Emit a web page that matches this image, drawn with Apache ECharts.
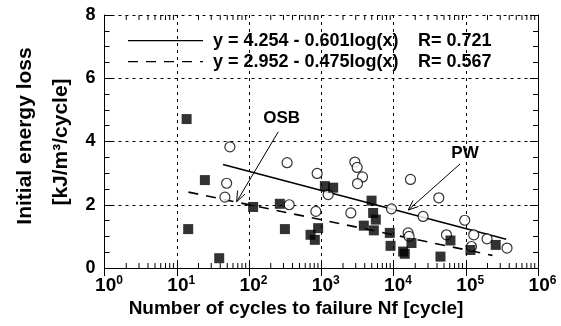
<!DOCTYPE html>
<html><head><meta charset="utf-8">
<script src="https://cdn.jsdelivr.net/npm/echarts@6/dist/echarts.min.js"></script>
<style>html,body{margin:0;padding:0;background:#fff}#c{width:561px;height:326px}</style>
</head><body><div id="c"></div>
<script>
// OSB (filled squares): [cycles to failure, initial energy loss]
const osbN = [13.7, 24.5, 14.4, 38.7, 114, 267, 314, 711, 815, 906, 1122, 1462, 4966, 5224, 5690, 3882, 5343, 8892, 9100, 13580, 14320, 17740, 44670, 61400, 116100, 260000];
const osbE = [4.71, 2.78, 1.23, 0.31, 1.93, 2.03, 1.23, 1.05, 0.89, 1.26, 2.59, 2.54, 2.13, 1.74, 1.53, 1.34, 1.19, 1.11, 0.70, 0.52, 0.45, 0.79, 0.36, 0.87, 0.57, 0.73];
// PW (open circles)
const pwN = [54.4, 49, 46.4, 337, 360, 877, 842, 1246, 2917, 3141, 3724, 3178, 2567, 9380, 17180, 25660, 42360, 15920, 16440, 54080, 96830, 129100, 197200, 372500, 120000];
const pwE = [3.83, 2.68, 2.24, 3.33, 2.00, 2.99, 1.79, 2.32, 3.35, 3.18, 2.88, 2.67, 1.74, 1.87, 2.80, 1.63, 2.22, 1.11, 1.00, 1.05, 1.51, 1.05, 0.92, 0.63, 0.68];
// Regression line end points
const fitSolidN = [43.7, 363000];
const fitSolidE = [3.27, 0.91];
const fitDashN = [14.5, 234000];
const fitDashE = [2.40, 0.40];
// Tick labels
const yTicks = [0, 2, 4, 6, 8];
const xTickExp = [0, 1, 2, 3, 4, 5, 6];
const legendText = ['y = 4.254 - 0.601log(x)', 'y = 2.952 - 0.475log(x)'];
const legendR = ['R= 0.721', 'R= 0.567'];
const xTitle = 'Number of cycles to failure Nf [cycle]';
const yTitle = ['Initial energy loss', '[kJ/m³/cycle]'];

const FONT = "'Liberation Sans', Arial, sans-serif";
const zip = (a, b) => a.map((v, i) => [v, b[i]]);
const minorTicks = [];
for (let d = 0; d < 6; d++) for (let m = 2; m <= 9; m++) minorTicks.push([m * Math.pow(10, d), 0]);

const chart = echarts.init(document.getElementById('c'));
const dash = { type: [3, 4], color: '#000', width: 1 };
const xBase = {
  type: 'log', logBase: 10, min: 1, max: 1e6,
  axisLine: { show: true, lineStyle: { color: '#000', width: 1 } },
  axisTick: { show: true, inside: true, length: 8, lineStyle: { color: '#000' } },
};
const yBase = {
  type: 'value', min: 0, max: 8, interval: 2,
  axisLine: { show: true, lineStyle: { color: '#000', width: 1 } },
  axisTick: { show: true, inside: true, length: 8, lineStyle: { color: '#000' } },
  minorTick: { show: true, splitNumber: 4, length: 5, lineStyle: { color: '#000' } },
};
const txt = (x, y, text, size, extra) => ({ type: 'text', x: x, y: y, rotation: (extra && extra.rot) || 0,
  style: { text: text, fontSize: size, fontWeight: 'bold', fontFamily: FONT, fill: '#000',
    align: (extra && extra.align) || 'left', verticalAlign: 'middle' } });
chart.setOption({
  animation: false,
  grid: { left: 104.5, right: 23, top: 15, bottom: 58 },
  xAxis: [
    Object.assign({}, xBase, {
      position: 'bottom',
      splitLine: { show: true, lineStyle: dash },
      axisLabel: {
        margin: 7, padding: [0, 0, 0, 9],
        formatter: v => '{b|10}{s|' + Math.round(Math.log10(v)) + '}',
        rich: {
          b: { fontSize: 19, fontWeight: 'bold', fontFamily: FONT, color: '#000', lineHeight: 21 },
          s: { fontSize: 12, fontWeight: 'bold', fontFamily: FONT, color: '#000', verticalAlign: 'top', lineHeight: 10 }
        }
      }
    }),
    Object.assign({}, xBase, { position: 'top', axisLabel: { show: false }, splitLine: { show: false } })
  ],
  yAxis: [
    Object.assign({}, yBase, {
      position: 'left',
      splitLine: { show: true, lineStyle: dash },
      axisLabel: { margin: 9, fontSize: 18, fontWeight: 'bold', fontFamily: FONT, color: '#000',
        formatter: v => yTicks.includes(v) ? String(v) : '' }
    }),
    Object.assign({}, yBase, { position: 'right', axisLabel: { show: false }, splitLine: { show: false } })
  ],
  series: [
    {
      type: 'custom', silent: true, clip: false, z: 1,
      data: minorTicks,
      renderItem: (params, api) => {
        const v = api.value(0);
        const b = api.coord([v, 0]);
        const t = api.coord([v, 8]);
        return { type: 'group', children: [
          { type: 'line', shape: { x1: b[0], y1: b[1], x2: b[0], y2: b[1] - 5 }, style: { stroke: '#000', lineWidth: 1 } },
          { type: 'line', shape: { x1: t[0], y1: t[1], x2: t[0], y2: t[1] + 5 }, style: { stroke: '#000', lineWidth: 1 } }
        ]};
      }
    },
    { type: 'line', data: zip(fitSolidN, fitSolidE), symbol: 'none', lineStyle: { color: '#000', width: 1.6, type: 'solid' }, z: 2 },
    { type: 'line', data: zip(fitDashN, fitDashE), symbol: 'none', lineStyle: { color: '#000', width: 1.6, type: [10, 8] }, z: 2 },
    { type: 'scatter', name: 'PW', data: zip(pwN, pwE), symbol: 'circle', symbolSize: 10,
      itemStyle: { color: '#fff', borderColor: '#000', borderWidth: 1.2 }, z: 3 },
    { type: 'scatter', name: 'OSB', data: zip(osbN, osbE), symbol: 'rect', symbolSize: 10,
      itemStyle: { color: '#000' }, z: 4 }
  ],
  graphic: [
    txt(25, 136, yTitle[0], 21, { rot: Math.PI / 2, align: 'center' }),
    txt(61, 142, yTitle[1], 21, { rot: Math.PI / 2, align: 'center' }),
    txt(296, 309, xTitle, 19, { align: 'center' }),
    { type: 'line', shape: { x1: 128, y1: 40.7, x2: 203, y2: 40.7 }, style: { stroke: '#000', lineWidth: 1.2 } },
    { type: 'line', shape: { x1: 128, y1: 61.7, x2: 203, y2: 61.7 }, style: { stroke: '#000', lineWidth: 1.2, lineDash: [10, 8] } },
    txt(213, 41, legendText[0], 18),
    txt(213, 62, legendText[1], 18),
    txt(418, 41, legendR[0], 18),
    txt(418, 62, legendR[1], 18),
    txt(281.7, 118, 'OSB', 17, { align: 'center' }),
    { type: 'line', shape: { x1: 278.3, y1: 131.7, x2: 236.7, y2: 201.7 }, style: { stroke: '#000', lineWidth: 1 } },
    { type: 'polyline', shape: { points: [[237.5, 190.5], [236.7, 201.7], [245, 194]] }, style: { stroke: '#000', lineWidth: 1, fill: null } },
    txt(465, 153.3, 'PW', 17, { align: 'center' }),
    { type: 'line', shape: { x1: 460, y1: 164, x2: 408.3, y2: 210 }, style: { stroke: '#000', lineWidth: 1 } },
    { type: 'polyline', shape: { points: [[413, 200.5], [408.3, 210], [418.5, 206.5]] }, style: { stroke: '#000', lineWidth: 1, fill: null } }
  ]
});
</script></body></html>
